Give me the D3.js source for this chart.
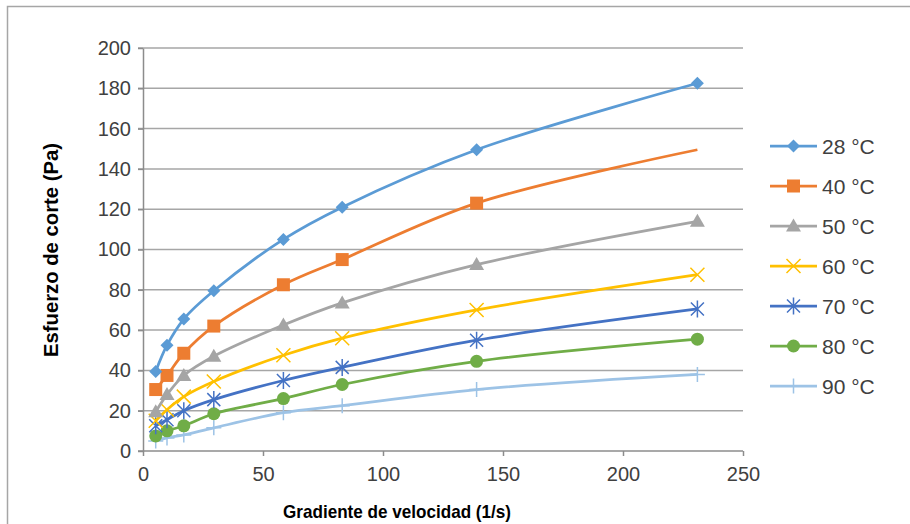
<!DOCTYPE html>
<html>
<head>
<meta charset="utf-8">
<script src="https://cdn.jsdelivr.net/npm/d3@7"></script>
<style>
  body { margin: 0; background: #fff; }
  text { font-family: "Liberation Sans", Arial, sans-serif; }
</style>
</head>
<body>
<svg width="910" height="524"></svg>
<script>
var width = 910, height = 524

// shear rate (1/s)
var gradiente = [5.3, 10, 17, 29.5, 58.5, 83, 139, 231]
var temps = ["28 °C", "40 °C", "50 °C", "60 °C", "70 °C", "80 °C", "90 °C"]
var s28 = [39.5, 52.5, 65.5, 79.5, 105, 121, 149.5, 182.5]
var s40 = [30.5, 37.5, 48.5, 62, 82.5, 95, 123, 149.5]
var s50 = [19.5, 28, 37.5, 47, 62.5, 73.5, 92.5, 114]
var s60 = [15, 20.5, 27, 34.5, 47.5, 56, 70, 87.5]
var s70 = [12.5, 15.5, 20, 25.5, 35, 41.5, 55, 70.5]
var s80 = [7.5, 10, 12.5, 18.5, 26, 33, 44.5, 55.5]
var s90 = [5, 6.5, 8, 11.5, 19, 22.5, 30.5, 38]
var xTicks = [0, 50, 100, 150, 200, 250]
var yTicks = [0, 20, 40, 60, 80, 100, 120, 140, 160, 180, 200]

var colors = ["#5B9BD5", "#ED7D31", "#A5A5A5", "#FFC000", "#4472C4", "#70AD47", "#9DC3E6"]
var shapes = ["diamond", "square", "triangle", "x", "star", "circle", "plus"]

var series = [s28, s40, s50, s60, s70, s80, s90].map(function(vals, i) {
  return {
    name: temps[i],
    color: colors[i],
    shape: shapes[i],
    points: vals.map(function(v, j) { return { x: gradiente[j], y: v } })
  }
})

var svg = d3.select('svg')

// outer chart frame
svg.append('rect')
  .attr('x', 7.5).attr('y', 6.5)
  .attr('width', 1000).attr('height', 1000)
  .attr('fill', 'none').attr('stroke', '#a6a6a6').attr('stroke-width', 1.5)

var x = d3.scaleLinear().domain([0, 250]).range([143, 743])
var y = d3.scaleLinear().domain([0, 200]).range([451, 48])

// gridlines
svg.append('g').selectAll('line')
  .data(yTicks.filter(function(d) { return d > 0 }))
  .enter().append('line')
  .attr('x1', 138).attr('x2', x(250))
  .attr('y1', function(d) { return y(d) }).attr('y2', function(d) { return y(d) })
  .attr('stroke', '#a6a6a6').attr('stroke-width', 1.5)

// axes
var xAxis = svg.append('g').attr('transform', 'translate(0,' + y(0) + ')')
  .call(d3.axisBottom(x).tickValues(xTicks).tickSize(5).tickPadding(11).tickSizeOuter(0))
var yAxis = svg.append('g').attr('transform', 'translate(' + x(0) + ',0)')
  .call(d3.axisLeft(y).tickValues(yTicks).tickSize(5).tickPadding(7).tickSizeOuter(0))

;[xAxis, yAxis].forEach(function(a) {
  a.selectAll('path, line').attr('stroke', '#8c8c8c').attr('stroke-width', 1.5)
  a.selectAll('text').attr('font-size', 20).attr('fill', '#404040')
    .style('font-family', '"Liberation Sans", Arial, sans-serif')
})
xAxis.select('.domain').attr('d', 'M' + (x(0) - 5) + ',0H' + x(250))

// axis titles
svg.append('text')
  .attr('x', 397).attr('y', 518)
  .attr('text-anchor', 'middle')
  .attr('font-size', 19).attr('font-weight', 'bold')
  .attr('textLength', 228).attr('lengthAdjust', 'spacingAndGlyphs')
  .text('Gradiente de velocidad (1/s)')

svg.append('text')
  .attr('transform', 'translate(58,250) rotate(-90)')
  .attr('text-anchor', 'middle')
  .attr('font-size', 20).attr('font-weight', 'bold')
  .attr('textLength', 214).attr('lengthAdjust', 'spacingAndGlyphs')
  .text('Esfuerzo de corte (Pa)')

function drawMarker(g, shape, color, cx, cy) {
  if (shape === 'diamond') {
    g.append('path').attr('d', 'M' + cx + ',' + (cy - 6.5) + 'L' + (cx + 6.5) + ',' + cy + 'L' + cx + ',' + (cy + 6.5) + 'L' + (cx - 6.5) + ',' + cy + 'Z')
      .attr('fill', color)
  } else if (shape === 'square') {
    g.append('rect').attr('x', cx - 6.5).attr('y', cy - 6.5).attr('width', 13).attr('height', 13)
      .attr('fill', color)
  } else if (shape === 'triangle') {
    g.append('path').attr('d', 'M' + cx + ',' + (cy - 7.5) + 'L' + (cx + 7.5) + ',' + (cy + 5.5) + 'L' + (cx - 7.5) + ',' + (cy + 5.5) + 'Z')
      .attr('fill', color)
  } else if (shape === 'circle') {
    g.append('circle').attr('cx', cx).attr('cy', cy).attr('r', 6.5).attr('fill', color)
  } else if (shape === 'x') {
    g.append('path').attr('d', 'M' + (cx - 7) + ',' + (cy - 7) + 'L' + (cx + 7) + ',' + (cy + 7) + 'M' + (cx + 7) + ',' + (cy - 7) + 'L' + (cx - 7) + ',' + (cy + 7))
      .attr('stroke', color).attr('stroke-width', 1.5)
  } else if (shape === 'star') {
    g.append('path').attr('d', 'M' + (cx - 6.5) + ',' + (cy - 6.5) + 'L' + (cx + 6.5) + ',' + (cy + 6.5) + 'M' + (cx + 6.5) + ',' + (cy - 6.5) + 'L' + (cx - 6.5) + ',' + (cy + 6.5) + 'M' + cx + ',' + (cy - 8.5) + 'L' + cx + ',' + (cy + 8.5))
      .attr('stroke', color).attr('stroke-width', 1.5)
  } else if (shape === 'plus') {
    g.append('path').attr('d', 'M' + (cx - 7.5) + ',' + cy + 'L' + (cx + 7.5) + ',' + cy + 'M' + cx + ',' + (cy - 7.5) + 'L' + cx + ',' + (cy + 7.5))
      .attr('stroke', color).attr('stroke-width', 1.5)
  }
}

var line = d3.line()
  .x(function(d) { return x(d.x) })
  .y(function(d) { return y(d.y) })
  .curve(d3.curveCatmullRom.alpha(0.5))

// draw back to front so 28 °C sits on top
series.slice().reverse().forEach(function(s) {
  var g = svg.append('g')
  g.append('path').datum(s.points)
    .attr('d', line)
    .attr('fill', 'none').attr('stroke', s.color).attr('stroke-width', 2.75)
  s.points.forEach(function(p, j) {
    // the 40 °C series shows no marker on its last point
    if (s.name === '40 °C' && j === s.points.length - 1) return
    drawMarker(g, s.shape, s.color, x(p.x), y(p.y))
  })
})

// legend
var legend = svg.append('g')
series.forEach(function(s, i) {
  var ly = 146 + i * 40
  legend.append('line').attr('x1', 770).attr('x2', 817).attr('y1', ly).attr('y2', ly)
    .attr('stroke', s.color).attr('stroke-width', 2.75)
  drawMarker(legend, s.shape, s.color, 793.5, ly)
  legend.append('text').attr('x', 822).attr('y', ly + 7.5)
    .attr('font-size', 21).attr('fill', '#404040')
    .text(s.name)
})
</script>
</body>
</html>
